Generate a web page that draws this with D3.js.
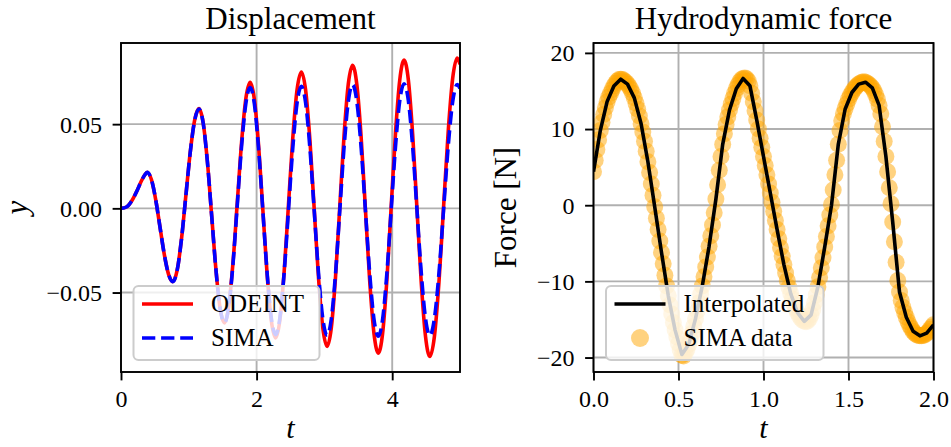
<!DOCTYPE html>
<html>
<head>
<meta charset="utf-8">
<script src="https://cdnjs.cloudflare.com/ajax/libs/d3/7.8.5/d3.min.js"></script>
<style>
  body { margin: 0; background: #fff; }
  svg { display: block; }
  text { font-family: "Liberation Serif", "DejaVu Serif", serif; fill: #000; }
</style>
</head>
<body>
<svg id="chart" width="951" height="447"></svg>
<script>
// Displacement (left panel): time stamps shared by both series
const dispT = [
  0, 0.08, 0.16, 0.24, 0.30, 0.35, 0.385,
  0.4483, 0.5117, 0.575, 0.6383, 0.7017, 0.765,
  0.8292, 0.8933, 0.9575, 1.0217, 1.0858, 1.15,
  1.2125, 1.275, 1.3375, 1.40, 1.4625, 1.525,
  1.5883, 1.6517, 1.715, 1.7783, 1.8417, 1.905,
  1.9675, 2.03, 2.0925, 2.155, 2.2175, 2.28,
  2.3433, 2.4067, 2.47, 2.5333, 2.5967, 2.66,
  2.7233, 2.7867, 2.85, 2.9133, 2.9767, 3.04,
  3.1025, 3.165, 3.2275, 3.29, 3.3525, 3.415,
  3.4783, 3.5417, 3.605, 3.6683, 3.7317, 3.795,
  3.8583, 3.9217, 3.985, 4.0483, 4.1117, 4.175,
  4.2383, 4.3017, 4.365, 4.4283, 4.4917, 4.555,
  4.6225, 4.69, 4.7575, 4.825, 4.8925, 4.96, 5.0
];
const odeintY = [
  0, 0.0008, 0.0045, 0.0108, 0.0162, 0.0198, 0.0214,
  0.0171, 0.0052, -0.0111, -0.0273, -0.0392, -0.0435,
  -0.0366, -0.0178, 0.0079, 0.0335, 0.0523, 0.0592,
  0.0507, 0.0274, -0.0044, -0.0362, -0.0595, -0.068,
  -0.0584, -0.0323, 0.0034, 0.0391, 0.0652, 0.0748,
  0.0646, 0.0369, -0.0011, -0.0391, -0.0668, -0.077,
  -0.0664, -0.0375, 0.002, 0.0415, 0.0704, 0.081,
  0.0701, 0.0403, -0.0005, -0.0413, -0.0711, -0.082,
  -0.0708, -0.0403, 0.0015, 0.0433, 0.0738, 0.085,
  0.0735, 0.0423, -0.0005, -0.0433, -0.0745, -0.086,
  -0.0743, -0.0425, 0.001, 0.0445, 0.0763, 0.088,
  0.0762, 0.044, 0, -0.044, -0.0762, -0.088,
  -0.0761, -0.0437, 0.0007, 0.045, 0.0774, 0.0893, 0.0855
];
const simaY = [
  0, 0.0008, 0.0045, 0.0108, 0.0162, 0.0198, 0.0214,
  0.0171, 0.0052, -0.0111, -0.0273, -0.0392, -0.0435,
  -0.0366, -0.0179, 0.0078, 0.0334, 0.0521, 0.059,
  0.0505, 0.0273, -0.0045, -0.0363, -0.0595, -0.068,
  -0.0586, -0.0331, 0.0019, 0.0368, 0.0623, 0.0717,
  0.0619, 0.035, -0.0017, -0.0383, -0.0652, -0.075,
  -0.0651, -0.0381, -0.0013, 0.0356, 0.0626, 0.0725,
  0.0626, 0.0355, -0.0015, -0.0385, -0.0656, -0.0755,
  -0.0655, -0.0383, -0.001, 0.0363, 0.0635, 0.0735,
  0.0635, 0.0361, -0.0013, -0.0386, -0.066, -0.076,
  -0.066, -0.0385, -0.001, 0.0365, 0.064, 0.074,
  0.064, 0.0366, -0.0008, -0.0381, -0.0655, -0.0755,
  -0.0655, -0.0383, -0.001, 0.0363, 0.0635, 0.0735, 0.0712
];

// Hydrodynamic force (right panel)
const simaDt = 0.01; // SIMA samples, t = 0.00 ... 2.00
const simaForce = [
  4.4, 5.9, 7.3, 8.6, 9.8, 10.9, 11.9, 12.8, 13.6, 14.2,
  14.7, 15.2, 15.65, 16.0, 16.3, 16.5, 16.55, 16.5, 16.35, 16.15,
  15.9, 15.6, 15.2, 14.7, 14.1, 13.4, 12.6, 11.7, 10.7, 9.6,
  8.4, 7.1, 5.7, 4.3, 2.8, 1.3, -0.2, -1.7, -3.2, -4.7,
  -6.2, -7.7, -9.2, -10.6, -11.9, -13.1, -14.3, -15.4, -16.4, -17.3,
  -18.2, -19.0, -19.7, -19.8, -19.4, -18.9, -18.3, -17.6, -16.8, -15.9,
  -14.9, -13.9, -12.8, -11.7, -10.6, -9.4, -8.1, -6.8, -5.4, -4.0,
  -2.6, -1.0, 0.8, 2.7, 4.6, 6.4, 8.0, 9.4, 10.6, 11.6,
  12.5, 13.3, 14.0, 14.7, 15.3, 15.8, 16.2, 16.5, 16.65, 16.7,
  16.6, 16.3, 15.7, 14.7, 13.6, 12.4, 11.2, 10.0, 8.8, 7.6,
  6.4, 5.2, 4.0, 2.8, 1.6, 0.4, -0.8, -2.0, -3.2, -4.4,
  -5.6, -6.7, -7.8, -8.9, -9.9, -10.8, -11.6, -12.3, -13.0, -13.6,
  -14.1, -14.5, -14.85, -15.1, -15.25, -15.3, -15.2, -14.9, -14.4, -13.7,
  -12.8, -11.8, -10.7, -9.5, -8.2, -6.9, -5.5, -4.1, -2.7, -1.3,
  0.1, 2.0, 4.0, 5.9, 8.0, 9.8, 11.1, 12.0, 12.7, 13.3,
  13.9, 14.4, 14.8, 15.15, 15.45, 15.7, 15.9, 16.05, 16.15, 16.2,
  16.15, 16.0, 15.85, 15.65, 15.4, 15.0, 14.5, 13.9, 13.1, 12.0,
  10.3, 8.4, 6.4, 4.4, 2.3, 0.2, -2.2, -4.8, -7.5, -9.9,
  -11.4, -12.5, -13.4, -14.1, -14.7, -15.3, -15.8, -16.2, -16.55, -16.8,
  -17.0, -17.1, -17.15, -17.15, -17.1, -17.0, -16.8, -16.6, -16.3, -16.0,
  -15.7
];
const interpDt = 0.04; // interpolated samples, t = 0.00 ... 2.00
const interpForce = [
  4.4, 9.8, 13.6, 15.65, 16.55, 15.9, 14.1, 10.7, 5.7, -0.2,
  -6.2, -11.9, -16.4, -19.6, -18.3, -14.9, -10.6, -5.4, 0.8, 8.0,
  12.5, 15.3, 16.65, 15.7, 11.2, 6.4, 1.6, -3.2, -7.8, -11.6,
  -14.1, -15.25, -14.4, -10.7, -5.5, 0.0, 8.0, 12.6, 14.8, 15.9,
  16.15, 15.4, 13.1, 6.4, -2.2, -11.4, -14.7, -16.55, -17.15, -16.8,
  -15.7
];

const dispXTicks = [0, 2, 4];
const dispYTicks = [-0.05, 0, 0.05];
const forceXTicks = [0, 0.5, 1, 1.5, 2];
const forceYTicks = [-20, -10, 0, 10, 20];

const svg = d3.select('#chart');
const gridColor = '#b0b0b0';

function drawPanel(cfg) {
  const { left, right, top, bottom } = cfg.box;
  const x = d3.scaleLinear().domain(cfg.xDomain).range([left, right]);
  const y = d3.scaleLinear().domain(cfg.yDomain).range([bottom, top]);
  const g = svg.append('g');

  // grid
  g.selectAll('.gx').data(cfg.xTicks).join('line')
    .attr('x1', (d) => x(d)).attr('x2', (d) => x(d))
    .attr('y1', top).attr('y2', bottom)
    .attr('stroke', gridColor).attr('stroke-width', 1.9);
  g.selectAll('.gy').data(cfg.yTicks).join('line')
    .attr('x1', left).attr('x2', right)
    .attr('y1', (d) => y(d)).attr('y2', (d) => y(d))
    .attr('stroke', gridColor).attr('stroke-width', 1.9);

  // clip for data
  svg.append('clipPath').attr('id', cfg.id + '-clip')
    .append('rect')
    .attr('x', left).attr('y', top)
    .attr('width', right - left).attr('height', bottom - top);
  const plot = g.append('g').attr('clip-path', `url(#${cfg.id}-clip)`);

  // axes
  const xAxis = d3.axisBottom(x).tickValues(cfg.xTicks)
    .tickFormat(cfg.xFormat).tickSize(8.4).tickPadding(0);
  const yAxis = d3.axisLeft(y).tickValues(cfg.yTicks)
    .tickFormat(cfg.yFormat).tickSize(8.4).tickPadding(0);
  const gx = g.append('g').attr('transform', `translate(0,${bottom})`).call(xAxis);
  const gy = g.append('g').attr('transform', `translate(${left},0)`).call(yAxis);
  [gx, gy].forEach((ax) => {
    ax.select('.domain').remove();
    ax.selectAll('.tick line').attr('stroke', '#000').attr('stroke-width', 1.9);
    ax.selectAll('.tick text')
      .style('font-family', '"Liberation Serif", serif')
      .style('font-size', '24px')
      .attr('fill', '#000');
  });
  gx.selectAll('.tick text').attr('y', 35).attr('dy', null);
  gy.selectAll('.tick text').attr('x', -19).attr('dy', '0.33em');

  // frame
  g.append('rect')
    .attr('x', left).attr('y', top)
    .attr('width', right - left).attr('height', bottom - top)
    .attr('fill', 'none').attr('stroke', '#000').attr('stroke-width', 1.9);

  // title & labels
  const cx = (left + right) / 2;
  g.append('text').attr('x', cx).attr('y', 29)
    .attr('text-anchor', 'middle').style('font-size', '31px').text(cfg.title);
  g.append('text').attr('x', cx).attr('y', 438)
    .attr('text-anchor', 'middle').style('font-size', '30px')
    .style('font-style', 'italic').text(cfg.xLabel);
  g.append('text')
    .attr('transform', `translate(${cfg.yLabelX},${(top + bottom) / 2}) rotate(-90)`)
    .attr('text-anchor', 'middle').style('font-size', '31px')
    .style('font-style', cfg.yItalic ? 'italic' : 'normal').text(cfg.yLabel);

  return { g, plot, x, y };
}

function drawLegend(g, box, entries) {
  g.append('rect')
    .attr('x', box.x).attr('y', box.y).attr('width', box.w).attr('height', box.h)
    .attr('rx', 5).attr('fill', '#fff').attr('fill-opacity', 0.8)
    .attr('stroke', '#cccccc').attr('stroke-width', 2);
  entries.forEach((e, i) => {
    const cy = box.y + 18 + i * 34;
    if (e.type === 'line') {
      g.append('line')
        .attr('x1', box.x + 8.5).attr('x2', box.x + 59.5)
        .attr('y1', cy).attr('y2', cy)
        .attr('stroke', e.color).attr('stroke-width', 3.6)
        .attr('stroke-dasharray', e.dash || null);
    } else {
      g.append('circle')
        .attr('cx', box.x + 34).attr('cy', cy).attr('r', 9)
        .attr('fill', e.color).attr('fill-opacity', 0.5);
    }
    g.append('text').attr('x', box.x + 77.5).attr('y', cy + 7.8)
      .style('font-size', '25px').text(e.label);
  });
}

// ---- Left: displacement ----
const left = drawPanel({
  id: 'disp',
  box: { left: 121, right: 460, top: 43, bottom: 372 },
  xDomain: [0, 5],
  yDomain: [-0.0972, 0.0982],
  xTicks: dispXTicks,
  yTicks: dispYTicks,
  xFormat: d3.format('d'),
  yFormat: d3.format('.2f'),
  title: 'Displacement',
  xLabel: 't',
  yLabel: 'y',
  yItalic: true,
  yLabelX: 27
});

const dispLine = (vals) => d3.line()
  .x((d, i) => left.x(dispT[i]))
  .y((d) => left.y(d))
  .curve(d3.curveMonotoneX)(vals);

left.plot.append('path').attr('d', dispLine(odeintY))
  .attr('fill', 'none').attr('stroke', '#ff0000').attr('stroke-width', 3.6);
left.plot.append('path').attr('d', dispLine(simaY))
  .attr('fill', 'none').attr('stroke', '#0000ff').attr('stroke-width', 3.6)
  .attr('stroke-dasharray', '13.3,5.8');

drawLegend(left.g, { x: 133.5, y: 286, w: 186, h: 74 }, [
  { type: 'line', color: '#ff0000', label: 'ODEINT' },
  { type: 'line', color: '#0000ff', dash: '13.3,5.8', label: 'SIMA' }
]);

// ---- Right: hydrodynamic force ----
const right = drawPanel({
  id: 'force',
  box: { left: 593.5, right: 933.5, top: 43, bottom: 372 },
  xDomain: [0, 2],
  yDomain: [-21.9, 21.3],
  xTicks: forceXTicks,
  yTicks: forceYTicks,
  xFormat: d3.format('.1f'),
  yFormat: d3.format('d'),
  title: 'Hydrodynamic force',
  xLabel: 't',
  yLabel: 'Force [N]',
  yItalic: false,
  yLabelX: 516
});

right.plot.selectAll('circle.sima')
  .data(simaForce)
  .join('circle')
  .attr('class', 'sima')
  .attr('cx', (d, i) => right.x(i * simaDt))
  .attr('cy', (d) => right.y(d))
  .attr('r', 8.5)
  .attr('fill', '#ffa500')
  .attr('fill-opacity', 0.5);

right.plot.append('path')
  .attr('d', d3.line()
    .x((d, i) => right.x(i * interpDt))
    .y((d) => right.y(d))(interpForce))
  .attr('fill', 'none').attr('stroke', '#000').attr('stroke-width', 3.6)
  .attr('stroke-linejoin', 'round');

drawLegend(right.g, { x: 606, y: 286, w: 217.5, h: 74 }, [
  { type: 'line', color: '#000', label: 'Interpolated' },
  { type: 'circle', color: '#ffa500', label: 'SIMA data' }
]);
</script>
</body>
</html>
